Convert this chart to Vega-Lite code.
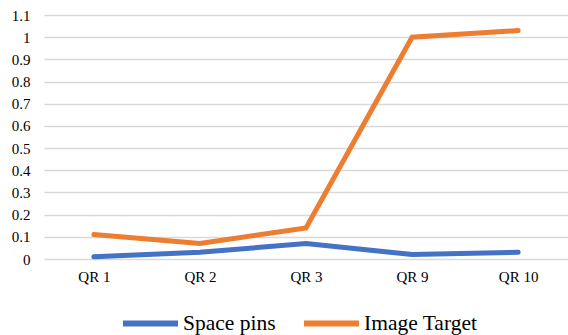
{
  "$schema": "https://vega.github.io/schema/vega-lite/v6.json",
  "autosize": {"type": "none"},
  "padding": {"left": 44, "top": 15, "right": 0, "bottom": 76},
  "width": 524,
  "height": 244,
  "background": "white",
  "config": {
    "font": "Liberation Serif",
    "view": {"stroke": null},
    "axis": {"labelFont": "Liberation Serif", "labelColor": "#000000", "labelFontSize": 15},
    "legend": {"labelFont": "Liberation Serif"}
  },
  "data": {
    "values": [
      {"qr": "QR 1", "method": "Space pins", "value": 0.01},
      {"qr": "QR 2", "method": "Space pins", "value": 0.03},
      {"qr": "QR 3", "method": "Space pins", "value": 0.07},
      {"qr": "QR 9", "method": "Space pins", "value": 0.02},
      {"qr": "QR 10", "method": "Space pins", "value": 0.03},
      {"qr": "QR 1", "method": "Image Target", "value": 0.11},
      {"qr": "QR 2", "method": "Image Target", "value": 0.07},
      {"qr": "QR 3", "method": "Image Target", "value": 0.14},
      {"qr": "QR 9", "method": "Image Target", "value": 1.0},
      {"qr": "QR 10", "method": "Image Target", "value": 1.03}
    ]
  },
  "mark": {"type": "line", "strokeWidth": 5, "strokeCap": "round", "strokeJoin": "miter"},
  "encoding": {
    "x": {
      "field": "qr",
      "type": "ordinal",
      "sort": ["QR 1", "QR 2", "QR 3", "QR 9", "QR 10"],
      "scale": {"type": "point", "padding": 0.47},
      "axis": {"title": null, "domain": false, "ticks": false, "labelAngle": 0, "labelPadding": 10, "grid": false}
    },
    "y": {
      "field": "value",
      "type": "quantitative",
      "scale": {"domain": [0, 1.1], "nice": false},
      "axis": {
        "title": null,
        "values": [0, 0.1, 0.2, 0.3, 0.4, 0.5, 0.6, 0.7, 0.8, 0.9, 1, 1.1],
        "format": ".1~f",
        "domain": false,
        "ticks": false,
        "labelPadding": 14,
        "grid": true,
        "gridColor": "#D9D9D9",
        "gridWidth": 1.3
      }
    },
    "color": {
      "field": "method",
      "type": "nominal",
      "sort": ["Space pins", "Image Target"],
      "scale": {"domain": ["Space pins", "Image Target"], "range": ["#4472C4", "#ED7D31"]},
      "legend": {
        "title": null,
        "orient": "none",
        "legendX": 76,
        "legendY": 278,
        "direction": "horizontal",
        "gridAlign": "none",
        "symbolType": "stroke",
        "symbolSize": 3025,
        "symbolStrokeWidth": 6,
        "labelFontSize": 21.5,
        "labelColor": "#000000",
        "labelOffset": 2,
        "columnPadding": 16
      }
    }
  }
}
